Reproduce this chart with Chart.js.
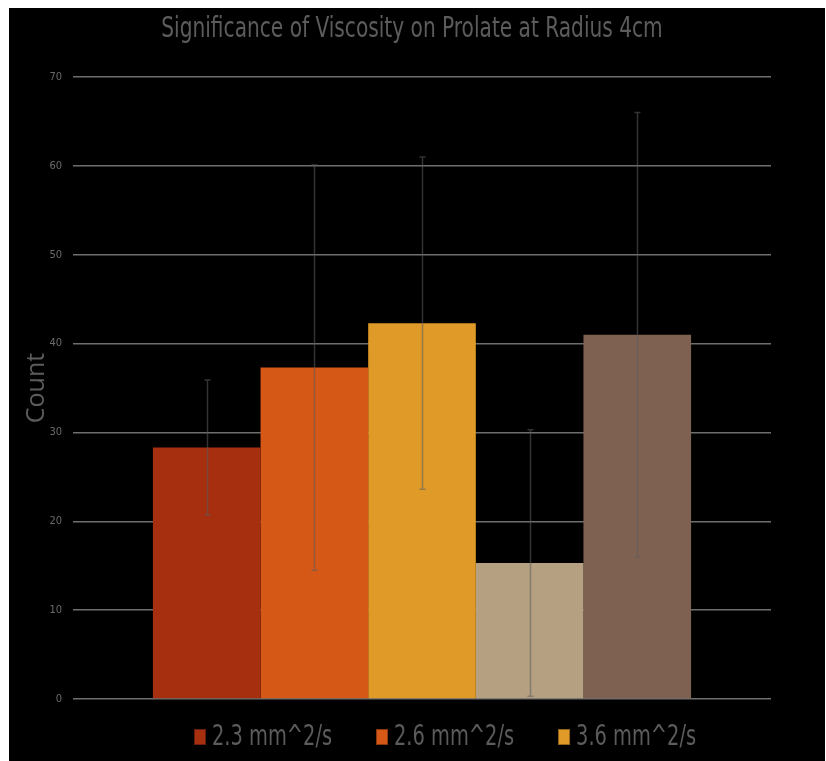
<!DOCTYPE html>
<html><head><meta charset="utf-8">
<script src="https://cdn.jsdelivr.net/npm/chart.js@4.4.1/dist/chart.umd.min.js"></script>
<style>
html,body{margin:0;padding:0;background:#fff;}
#wrap{position:absolute;left:9px;top:8px;width:816px;height:753px;background:#000;}
</style></head><body>
<div id="wrap"><canvas id="c"></canvas></div>
<script>
// Mean count per viscosity with its error half-width
const viscosities = ['2.3 mm^2/s', '2.6 mm^2/s', '3.6 mm^2/s', '4.1 mm^2/s', '4.6 mm^2/s'];
const counts = [28.3, 37.3, 42.3, 15.3, 41.0];
const errors = [7.6, 22.8, 18.7, 15.0, 25.0];
const barColors = ['#A52F0F', '#D55817', '#E09A27', '#B5A081', '#7F6152'];
const yTicks = [0, 10, 20, 30, 40, 50, 60, 70];
const chartTitle = 'Significance of Viscosity on Prolate at Radius 4cm';
const legendShown = 3;

const condensed = '"DejaVu Sans Condensed", "DejaVu Sans", sans-serif';
const greyText = '#5c5c5c';

const datasets = viscosities.map((name, i) => ({
  label: name,
  data: [counts[i]],
  errorBar: errors[i],
  backgroundColor: barColors[i],
  borderWidth: 0,
  categoryPercentage: 0.771,
  barPercentage: 1.0
}));

// Narrow text: draw with a horizontal squeeze to get tall, thin letterforms
function narrowText(ctx, text, x, y, size, squeeze, align) {
  ctx.save();
  ctx.font = size + 'px ' + condensed;
  ctx.textBaseline = 'middle';
  ctx.textAlign = align;
  ctx.translate(x, y);
  ctx.scale(squeeze, 1);
  ctx.fillText(text, 0, 0);
  const w = ctx.measureText(text).width * squeeze;
  ctx.restore();
  return w;
}

// Vertical error bars with small caps, placed through the value scale
const errorBars = {
  id: 'errorBars',
  afterDatasetsDraw(chart) {
    const ctx = chart.ctx;
    const y = chart.scales.y;
    ctx.save();
    ctx.strokeStyle = 'rgba(92,92,92,0.55)';
    ctx.lineWidth = 1.5;
    chart.data.datasets.forEach((ds, i) => {
      const bar = chart.getDatasetMeta(i).data[0];
      const v = ds.data[0], e = ds.errorBar;
      const top = y.getPixelForValue(v + e);
      const bot = y.getPixelForValue(v - e);
      const x = Math.round(bar.x) + 0.5;
      ctx.beginPath();
      ctx.moveTo(x, top); ctx.lineTo(x, bot);
      ctx.moveTo(x - 3, top); ctx.lineTo(x + 3, top);
      ctx.moveTo(x - 3, bot); ctx.lineTo(x + 3, bot);
      ctx.stroke();
    });
    ctx.restore();
  }
};

// Title above the plot and legend row beneath it
const headerAndLegend = {
  id: 'headerAndLegend',
  afterDraw(chart) {
    const ctx = chart.ctx;
    const area = chart.chartArea;
    ctx.fillStyle = greyText;
    narrowText(ctx, chartTitle, (area.left + area.right) / 2 - 10, 22, 28, 0.80, 'center');

    const cy = area.bottom + 38;
    let x = area.left + 121;
    chart.data.datasets.slice(0, legendShown).forEach(ds => {
      ctx.fillStyle = ds.backgroundColor;
      ctx.fillRect(x, cy - 8, 12, 16);
      ctx.strokeStyle = 'rgba(0,0,0,0.35)';
      ctx.lineWidth = 1;
      ctx.strokeRect(x + 0.5, cy - 7.5, 11, 15);
      ctx.fillStyle = greyText;
      const w = narrowText(ctx, ds.label, x + 18, cy + 1, 28, 0.77, 'left');
      x += 18 + w + 44;
    });
  }
};

new Chart(document.getElementById('c'), {
  type: 'bar',
  data: { labels: [''], datasets },
  plugins: [errorBars, headerAndLegend],
  options: {
    responsive: true,
    maintainAspectRatio: false,
    animation: false,
    layout: { padding: { left: 0, right: 54, top: 69, bottom: 62 } },
    plugins: {
      legend: { display: false },
      tooltip: { enabled: false },
      title: { display: false }
    },
    scales: {
      x: { display: false },
      y: {
        min: 0, max: 70,
        afterFit(scale) { scale.width = 64; },
        afterBuildTicks(scale) { scale.ticks = yTicks.map(v => ({ value: v })); },
        border: { display: false },
        grid: { color: '#6e6e6e', lineWidth: 1.5, drawTicks: false },
        ticks: { color: '#6a6a6a', padding: 11, font: { family: condensed, size: 11 } },
        title: {
          display: true, text: 'Count', color: greyText,
          font: { family: '"Open Sans", sans-serif', size: 25 },
          padding: { top: 13, bottom: 0 }
        }
      }
    }
  }
});
</script>
</body></html>
